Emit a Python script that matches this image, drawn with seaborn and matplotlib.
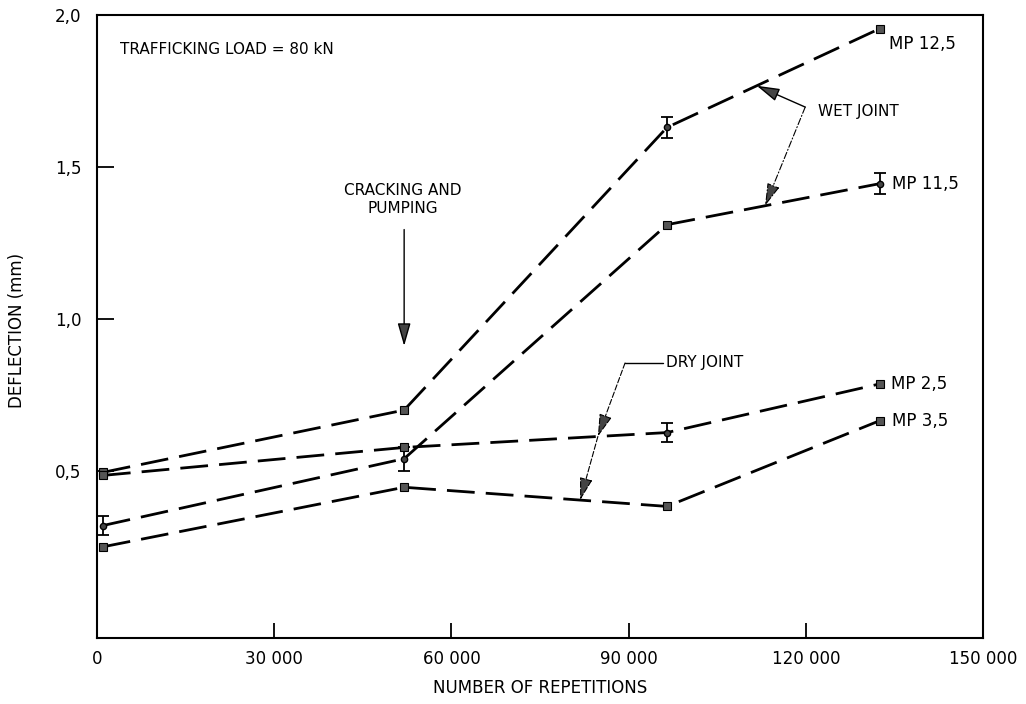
import numpy as np
import pandas as pd
import matplotlib
matplotlib.use("Agg")
import matplotlib.pyplot as plt
import seaborn as sns

# ---------------- data ----------------
reps = [1000, 52000, 96500, 132500]
mp_12_5 = [0.495, 0.70, 1.63, 1.955]
mp_11_5 = [0.32, 0.54, 1.31, 1.445]
mp_2_5 = [0.485, 0.577, 0.626, 0.786]
mp_3_5 = [0.25, 0.446, 0.383, 0.665]
err_12_5 = [0.0, 0.0, 0.035, 0.0]
err_11_5 = [0.03, 0.04, 0.0, 0.035]
err_2_5 = [0.0, 0.0, 0.03, 0.0]
err_3_5 = [0.0, 0.0, 0.0, 0.0]
series_names = ["MP 12,5", "MP 11,5", "MP 2,5", "MP 3,5"]
x_ticks = [0, 30000, 60000, 90000, 120000, 150000]
x_tick_labels = ["0", "30 000", "60 000", "90 000", "120 000", "150 000"]
y_ticks = [0.5, 1.0, 1.5, 2.0]
y_tick_labels = ["0,5", "1,0", "1,5", "2,0"]

values = [mp_12_5, mp_11_5, mp_2_5, mp_3_5]
errors = [err_12_5, err_11_5, err_2_5, err_3_5]

df = pd.DataFrame({
    "reps": np.tile(reps, len(series_names)),
    "defl": np.concatenate(values),
    "err": np.concatenate(errors),
    "series": np.repeat(series_names, len(reps)),
})

# ---------------- style ----------------
sns.set_style("ticks")
plt.rcParams["font.family"] = ["DejaVu Sans"]
plt.rcParams["axes.linewidth"] = 1.5
plt.rcParams["text.color"] = "black"
plt.rcParams["axes.labelcolor"] = "black"
plt.rcParams["xtick.color"] = "black"
plt.rcParams["ytick.color"] = "black"

fig = plt.figure(figsize=(10.26, 7.04), dpi=100)
ax = fig.add_axes([97 / 1026, 1 - 638 / 704, (983 - 97) / 1026, (638 - 15) / 704])

for name in series_names:
    sub = df[df["series"] == name]
    sns.lineplot(data=sub, x="reps", y="defl", ax=ax, color="black", lw=2.0,
                 linestyle=(0, (10, 4)), legend=False, zorder=2)
    sq = sub[sub["err"] == 0]
    ax.plot(sq["reps"], sq["defl"], ls="none", marker="s", ms=5.5,
            mfc="#555555", mec="black", mew=0.8, zorder=3)
    eb = sub[sub["err"] > 0]
    ax.errorbar(eb["reps"], eb["defl"], yerr=eb["err"], fmt="o", ms=4.5,
                mfc="#444444", mec="black", ecolor="black", elinewidth=1.3,
                capsize=4.3, capthick=1.3, zorder=3)

# series labels at the right end
label_offsets = {"MP 12,5": (7, -11), "MP 11,5": (9, 0), "MP 2,5": (8, 0), "MP 3,5": (9, 0)}
for name in series_names:
    sub = df[df["series"] == name]
    ax.annotate(name, xy=(sub["reps"].iloc[-1], sub["defl"].iloc[-1]),
                xytext=label_offsets[name], textcoords="offset points",
                ha="left", va="center", fontsize=12)

# ---------------- axes ----------------
ax.set_xlim(0, 150000)
ax.set_ylim(-0.05, 2.0)
ax.set_xticks(x_ticks)
ax.set_xticklabels(x_tick_labels)
ax.set_yticks(y_ticks)
ax.set_yticklabels(y_tick_labels)
ax.tick_params(axis="x", direction="in", length=11, width=1.3, labelsize=12, pad=9)
ax.tick_params(axis="y", direction="in", length=12, width=1.3, labelsize=12, pad=11)
for s in ax.spines.values():
    s.set_visible(True)
    s.set_linewidth(1.5)
    s.set_color("black")

ax.set_xlabel("NUMBER OF REPETITIONS", fontsize=12)
ax.set_ylabel("DEFLECTION (mm)", fontsize=12)
ax.xaxis.set_label_coords(0.5, -0.066)
ax.yaxis.set_label_coords(-0.080, 0.494)

# ---------------- annotations ----------------
ax.text(3900, 1.887, "TRAFFICKING LOAD = 80 kN", fontsize=11, ha="left", va="center")

head = "-|>,head_length=1.4,head_width=0.4"

# cracking and pumping
ax.text(51800, 1.393, "CRACKING AND\nPUMPING", fontsize=11, ha="center", va="center",
        linespacing=1.3)
ax.annotate("", xy=(52000, 0.911), xytext=(52000, 1.294),
            arrowprops=dict(arrowstyle=head, color="black", fc="#444444", lw=1.0,
                            shrinkA=0, shrinkB=0, mutation_scale=10))

# wet joint
ax.text(122000, 1.681, "WET JOINT", fontsize=11, ha="left", va="center")
wet_start = (119900, 1.697)
t1x = 111700
ax.annotate("", xy=(t1x, np.interp(t1x, reps, mp_12_5)), xytext=wet_start,
            arrowprops=dict(arrowstyle=head, color="black", fc="#444444", lw=1.0,
                            shrinkA=0, shrinkB=0, mutation_scale=10))
t2x = 113100
ax.annotate("", xy=(t2x, np.interp(t2x, reps, mp_11_5)), xytext=wet_start,
            arrowprops=dict(arrowstyle=head, color="black", fc="#444444", lw=0.8,
                            ls=(0, (6, 2, 1, 2)), shrinkA=0, shrinkB=0, mutation_scale=10))

# dry joint
ax.text(96400, 0.855, "DRY JOINT", fontsize=11, ha="left", va="center")
corner = (89400, 0.855)
ax.plot([corner[0], 95900], [corner[1], corner[1]], color="black", lw=1.0)
d1x = 84800
d1 = (d1x, np.interp(d1x, reps, mp_2_5))
ax.annotate("", xy=d1, xytext=corner,
            arrowprops=dict(arrowstyle=head, color="black", fc="#444444", lw=0.8,
                            ls=(0, (5, 2)), shrinkA=0, shrinkB=0, mutation_scale=10))
d2x = 81800
ax.annotate("", xy=(d2x, np.interp(d2x, reps, mp_3_5)), xytext=d1,
            arrowprops=dict(arrowstyle=head, color="black", fc="#444444", lw=0.8,
                            ls=(0, (5, 2)), shrinkA=0, shrinkB=0, mutation_scale=10))

fig.savefig("out.png", dpi=100)
